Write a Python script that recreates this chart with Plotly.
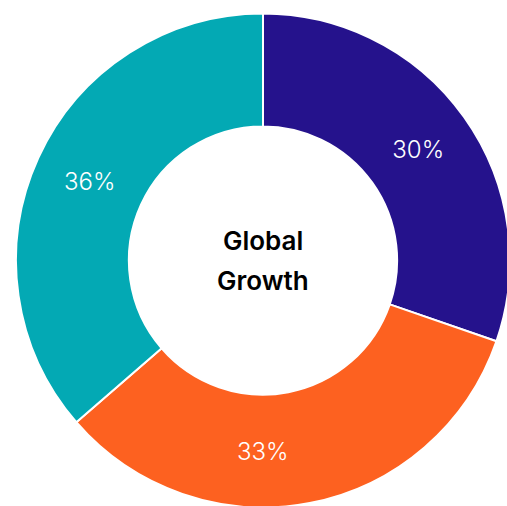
import plotly.graph_objects as go

labels = ["A", "B", "C"]
values = [30, 33, 36]
pct_text = ["30%", "33%", "36%"]
colors = ["#25128C", "#FD6120", "#03A9B4"]
center_lines = ["Global", "Growth"]

# the bottom slice label sits at the 6 o'clock position in the reference
pie_text = [t if i != 1 else "" for i, t in enumerate(pct_text)]

fig = go.Figure(
    go.Pie(
        labels=labels,
        values=values,
        text=pie_text,
        textinfo="text",
        textposition="inside",
        insidetextorientation="horizontal",
        hole=0.543,
        sort=False,
        direction="clockwise",
        rotation=0,
        marker=dict(colors=colors, line=dict(color="white", width=2)),
        textfont=dict(family="Inter", size=24, color="white", weight=300),
        showlegend=False,
        hoverinfo="skip",
    )
)

fig.add_annotation(
    text=pct_text[1], x=0.5, y=0.115, xref="paper", yref="paper",
    showarrow=False, xanchor="center", yanchor="middle",
    font=dict(family="Inter", size=24, color="white", weight=300),
)

ys = [0.5404, 0.4596]
for txt, y in zip(center_lines, ys):
    fig.add_annotation(
        text=txt, x=0.5, y=y, xref="paper", yref="paper",
        showarrow=False, xanchor="center", yanchor="middle",
        font=dict(family="Inter", size=26, color="black", weight=600),
    )

fig.update_layout(
    width=510, height=508, autosize=False,
    margin=dict(l=16, r=0, t=13, b=0, pad=0),
    paper_bgcolor="white", plot_bgcolor="white",
)

fig.write_html(
    "out.html",
    post_script="document.body.style.margin='0';document.body.style.overflow='hidden';document.documentElement.style.overflow='hidden';",
)
